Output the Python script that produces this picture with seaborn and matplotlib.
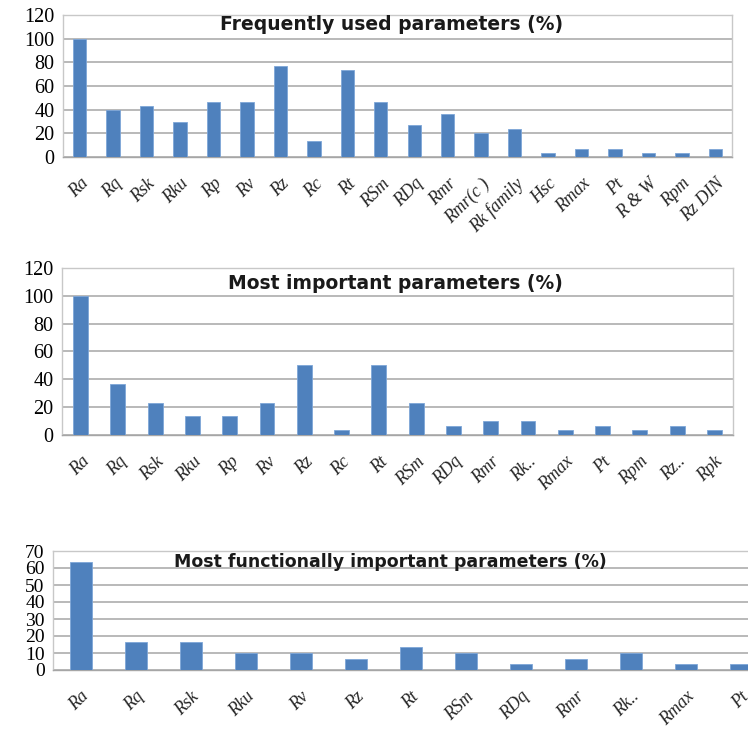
import matplotlib
matplotlib.use("Agg")
import matplotlib.pyplot as plt
import seaborn as sns
import pandas as pd

# Survey results: share of respondents (%) per roughness parameter
freq_labels = ["Ra", "Rq", "Rsk", "Rku", "Rp", "Rv", "Rz", "Rc", "Rt", "RSm",
               "RDq", "Rmr", "Rmr(c )", "Rk family", "Hsc", "Rmax", "Pt",
               "R & W", "Rpm", "Rz DIN"]
freq_values = [100, 40, 43.3, 30, 46.7, 46.7, 76.7, 13.3, 73.3, 46.7,
               26.7, 36.7, 20, 23.3, 3.3, 6.7, 6.7, 3.3, 3.3, 6.7]

imp_labels = ["Ra", "Rq", "Rsk", "Rku", "Rp", "Rv", "Rz", "Rc", "Rt", "RSm",
              "RDq", "Rmr", "Rk..", "Rmax", "Pt", "Rpm", "Rz..", "Rpk"]
imp_values = [100, 36.7, 23.3, 13.3, 13.3, 23.3, 50, 3.3, 50, 23.3,
              6.7, 10, 10, 3.3, 6.7, 3.3, 6.7, 3.3]

func_labels = ["Ra", "Rq", "Rsk", "Rku", "Rv", "Rz", "Rt", "RSm", "RDq",
               "Rmr", "Rk..", "Rmax", "Pt"]
func_values = [63.3, 16.7, 16.7, 10, 10, 6.7, 13.3, 10, 3.3, 6.7, 10, 3.3, 3.3]

titles = ["Frequently used parameters (%)",
          "Most important parameters (%)",
          "Most functionally important parameters (%)"]

sns.set_theme(style="white")
plt.rcParams["font.family"] = ["Liberation Serif", "DejaVu Serif"]

W, H = 748, 756
fig = plt.figure(figsize=(W / 100, H / 100), dpi=100)

BAR = "#4F81BD"
GRID = "#A6A6A6"

def px_axes(left, top, right, bottom):
    return fig.add_axes([left / W, 1 - bottom / H, (right - left) / W, (bottom - top) / H])

panels = [
    dict(labels=freq_labels, values=freq_values, box=(63, 15, 732, 157),
         ymax=120, step=20, title_y=25, title_x=392, title_size=13.5, tick_size=14.5),
    dict(labels=imp_labels, values=imp_values, box=(62, 268, 733, 435),
         ymax=120, step=20, title_y=284, title_x=395, title_size=13.5, tick_size=14.5),
    dict(labels=func_labels, values=func_values, box=(53, 551, 768, 670),
         ymax=70, step=10, title_y=562, title_x=390, title_size=12.5, tick_size=14),
]

for p, title in zip(panels, titles):
    ax = px_axes(*p["box"])
    df = pd.DataFrame({"param": p["labels"], "pct": p["values"]})
    sns.barplot(data=df, x="param", y="pct", color=BAR, width=0.4,
                saturation=1, edgecolor="#7EA6D8", linewidth=0.6, ax=ax, zorder=3)
    n = len(p["labels"])
    ax.set_xlim(-0.5, n - 0.5)
    ax.set_ylim(0, p["ymax"])
    ax.set_yticks(range(0, p["ymax"] + 1, p["step"]))
    ax.yaxis.grid(True, color=GRID, linewidth=1.1, zorder=0)
    ax.set_axisbelow(True)
    for side in ["top", "right", "left", "bottom"]:
        ax.spines[side].set_color("#C8C8C8")
        ax.spines[side].set_linewidth(1.0)
    ax.spines["bottom"].set_color(GRID)
    ax.set_xlabel("")
    ax.set_ylabel("")
    ax.tick_params(axis="y", labelsize=p["tick_size"], length=0, pad=6, colors="black")
    ax.tick_params(axis="x", length=0, pad=13)
    ax.set_xticks(range(n))
    ax.set_xticklabels(p["labels"], rotation=45, ha="right",
                       rotation_mode="anchor", fontsize=13, style="italic")
    fig.text(p["title_x"] / W, 1 - p["title_y"] / H, title,
             ha="center", va="center", fontsize=p["title_size"], fontweight="bold",
             family=["Liberation Sans Narrow", "DejaVu Sans"], color="#1a1a1a")

fig.savefig("out.png", dpi=100)
